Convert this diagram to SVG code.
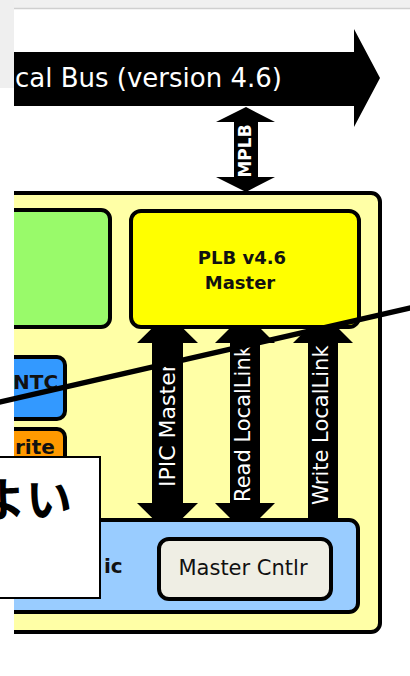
<svg xmlns="http://www.w3.org/2000/svg" width="410" height="676" viewBox="0 0 410 676">
<defs>
<style>
.box{stroke:#000;stroke-width:4}
.t{font-family:"DejaVu Sans",Verdana,sans-serif;fill:#111}
.w{font-family:"DejaVu Sans",Verdana,sans-serif;fill:#fff}
.arr{fill:#000}
</style>
</defs>
<rect width="410" height="676" fill="#fff"/>
<g id="container">
<rect x="-20" y="193" width="400" height="439" rx="9" fill="#FFFFA6" class="box"/>
</g>
<g id="connectors">
<g id="bus">
<polygon class="arr" points="-20,52 354,52 354,29 380,78 354,127 354,106 -20,106"/>
<text class="w" x="15" y="87" font-size="26">cal Bus (version 4.6)</text>
</g>
<g id="mplb">
<polygon class="arr" points="246,107 275,122 258,122 258,177 275,177 246,192 216,177 234,177 234,122 216,122"/>
<text class="w" font-size="17" font-weight="bold" text-anchor="middle" transform="translate(251,151) rotate(-90)">MPLB</text>
</g>
<g id="ipic">
<polygon class="arr" points="167.5,313 198,343 183,343 183,503 198,503 167.5,533 137,503 152,503 152,343 137,343"/>
<text class="w" font-size="22" transform="translate(175,487) rotate(-90)">IPIC Master</text>
</g>
<g id="readll">
<polygon class="arr" points="245,313 275,343 260,343 260,503 275,503 245,533 215,503 230,503 230,343 215,343"/>
<text class="w" font-size="21" transform="translate(250,502) rotate(-90)">Read LocalLink</text>
</g>
<g id="writell">
<polygon class="arr" points="323,313 353,343 338,343 338,522 308,522 308,343 293,343"/>
<text class="w" font-size="21" transform="translate(328,505) rotate(-90)">Write LocalLink</text>
</g>
</g>
<g id="green">
<rect x="-20" y="210" width="130" height="117" rx="9" fill="#99FA6A" class="box"/>
</g>
<g id="plb">
<rect x="131" y="211" width="228" height="116" rx="10" fill="#FFFF00" class="box"/>
<text class="t" x="242" y="264" font-size="18" font-weight="bold" text-anchor="middle">PLB v4.6</text>
<text class="t" x="240" y="289" font-size="18" font-weight="bold" text-anchor="middle">Master</text>
</g>
<g id="intc">
<rect x="-20" y="357" width="85" height="62" rx="8" fill="#3399FF" class="box"/>
<text class="t" x="13" y="389" font-size="20" font-weight="bold" fill="#001a4d">NTC</text>
</g>
<g id="write">
<rect x="-20" y="429" width="85" height="70" rx="8" fill="#FF9900" class="box"/>
<text class="t" x="15" y="454" font-size="20" font-weight="bold">rite</text>
</g>
<g id="logic">
<rect x="-20" y="520" width="378" height="92" rx="9" fill="#99CCFF" class="box"/>
<text class="t" x="104" y="573" font-size="20" font-weight="bold">ic</text>
</g>
<g id="mastercntlr">
<rect x="159" y="539" width="172" height="60" rx="10" fill="#EFEEE4" class="box"/>
<text class="t" x="243" y="575" font-size="21" text-anchor="middle">Master Cntlr</text>
</g>
<g id="frame">
<rect x="0" y="88" width="14" height="588" fill="#fff"/>
<rect x="0" y="0" width="410" height="8" fill="#F0F0F0"/>
<rect x="0" y="0" width="14" height="88" fill="#EFEFEF"/>
<line x1="14" y1="8.5" x2="410" y2="8.5" stroke="#CFCFCF" stroke-width="1.5"/>
</g>
<g id="overlay">
<line x1="-2" y1="402.5" x2="412" y2="307.5" stroke="#000" stroke-width="5.5"/>
<rect x="-2" y="457" width="102" height="141" fill="#fff" stroke="#000" stroke-width="2"/>
<text x="-20" y="516" font-size="46" font-weight="bold" font-family="'Noto Sans CJK JP',sans-serif" fill="#000">よい</text>
</g>
</svg>
